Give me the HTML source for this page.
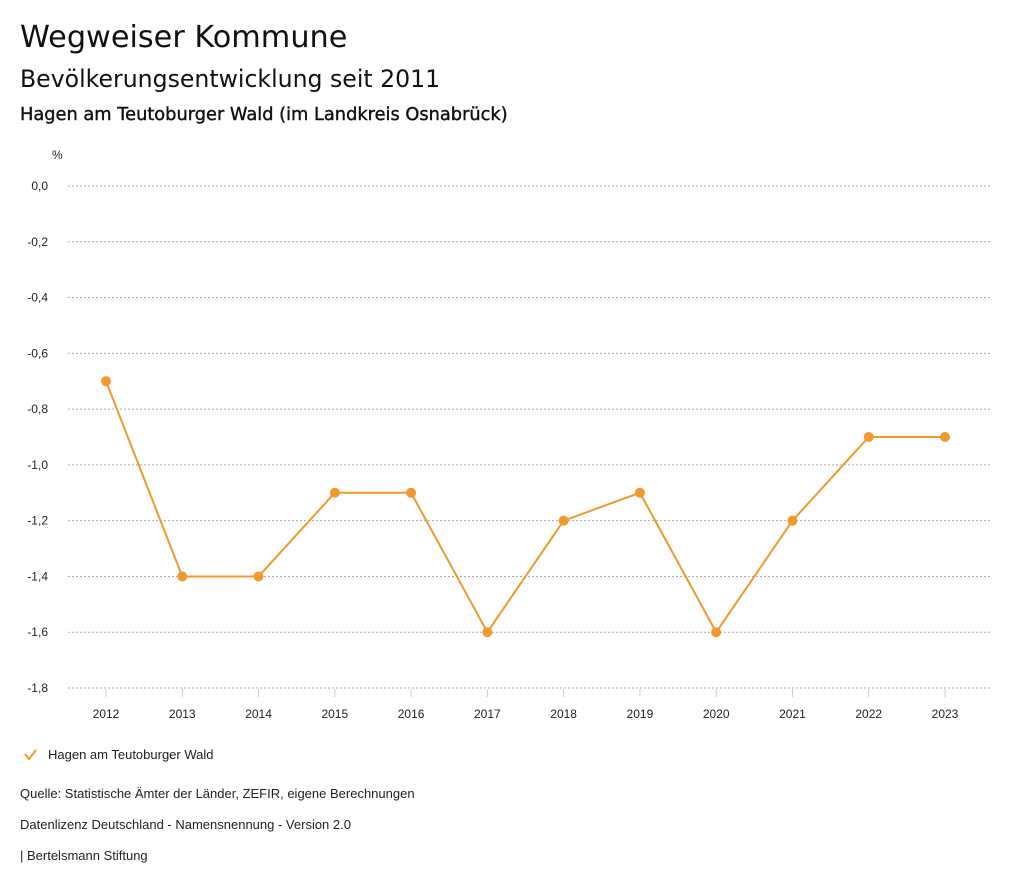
<!DOCTYPE html>
<html><head><meta charset="utf-8">
<style>
body{margin:0;background:#fff;font-family:"Liberation Sans","DejaVu Sans",sans-serif;color:#111;}
.t1{position:absolute;left:20px;top:20px;font-size:30.3px;font-family:"DejaVu Sans",sans-serif;}
.t2{position:absolute;left:20px;top:65px;font-size:23.6px;font-family:"DejaVu Sans",sans-serif;}
.t3{position:absolute;left:20px;top:104px;font-size:17.8px;font-family:"DejaVu Sans",sans-serif;-webkit-text-stroke:0.4px #111;}
.foot{position:absolute;left:20px;font-size:13px;color:#222;}
svg{position:absolute;left:0;top:0;}
</style></head><body>
<div class="t1">Wegweiser Kommune</div>
<div class="t2">Bevölkerungsentwicklung seit 2011</div>
<div class="t3">Hagen am Teutoburger Wald (im Landkreis Osnabrück)</div>
<svg id="chart" width="1024" height="888"></svg>
<div class="foot" style="top:786px">Quelle: Statistische Ämter der Länder, ZEFIR, eigene Berechnungen</div>
<div class="foot" style="top:817px">Datenlizenz Deutschland - Namensnennung - Version 2.0</div>
<div class="foot" style="top:848px">| Bertelsmann Stiftung</div>
<script>
const years=["2012","2013","2014","2015","2016","2017","2018","2019","2020","2021","2022","2023"];
const values=[-0.7,-1.4,-1.4,-1.1,-1.1,-1.6,-1.2,-1.1,-1.6,-1.2,-0.9,-0.9];
const yTicks=[0,-0.2,-0.4,-0.6,-0.8,-1.0,-1.2,-1.4,-1.6,-1.8];
const seriesName="Hagen am Teutoburger Wald";
const NS="http://www.w3.org/2000/svg";
const svg=document.getElementById('chart');
function y(v){return 186+(0-v)/1.8*502;}
function x(i){return 106+i*(945-106)/(years.length-1);}
function mk(tag,attrs){const e=document.createElementNS(NS,tag);for(const k in attrs)e.setAttribute(k,attrs[k]);svg.appendChild(e);return e;}
let t=mk('text',{x:52,y:159,'font-size':12,fill:'#222'});t.textContent='%';


yTicks.forEach(v=>{
  const l=mk('line',{x1:68,x2:990,y1:y(v),y2:y(v),stroke:'#aaa','stroke-dasharray':'2,2','stroke-width':1});
  
  
  const tx=mk('text',{x:48,y:y(v)+4,'font-size':12,fill:'#222','text-anchor':'end'});
  tx.textContent=v.toFixed(1).replace('.',',');
  
  
});
years.forEach((yr,i)=>{
  const l=mk('line',{x1:x(i),x2:x(i),y1:689,y2:697,stroke:'#ccc','stroke-width':1});
  
  
  const tx=mk('text',{x:x(i),y:718,'font-size':12,fill:'#222','text-anchor':'middle'});
  tx.textContent=yr;
  
  
});
const pl=mk('polyline',{points:values.map((v,i)=>x(i)+','+y(v)).join(' '),fill:'none',stroke:'#f0992f','stroke-width':2});


values.forEach((v,i)=>{
  const c=mk('circle',{cx:x(i),cy:y(v),r:5,fill:'#f0992f'});
  
  
});
const chk=mk('polyline',{points:'25,754 29,759 36,750',fill:'none',stroke:'#f0992f','stroke-width':2});


const lt=mk('text',{x:48,y:759,'font-size':13,fill:'#222'});
lt.textContent=seriesName;


</script>
</body></html>
